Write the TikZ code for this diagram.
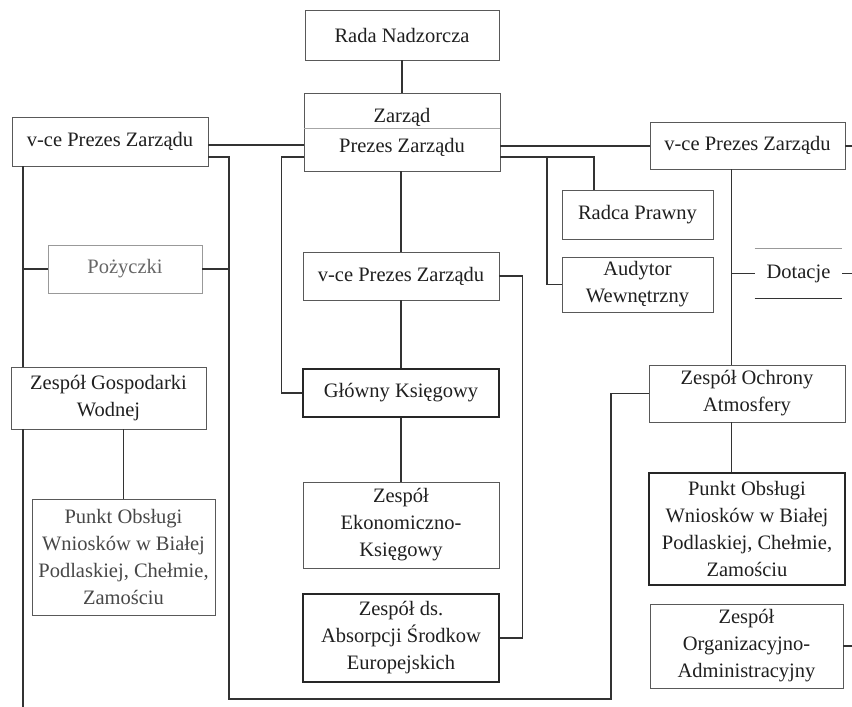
\documentclass[tikz,border=0pt]{standalone}
\usepackage{fontspec}
\setmainfont{Liberation Serif}
\usetikzlibrary{positioning,calc}
\tikzset{
  box/.style={draw=black!65, line width=0.8pt, rectangle, inner sep=0pt, align=center, text=black!88,
    font=\fontsize{20.5}{27}\selectfont},
  tbox/.style={box, line width=1.3pt, draw=black!85},
  obox/.style={box, draw=none},
  link/.style={draw=black!80, line width=1.1pt},
}

\begin{document}
\begin{tikzpicture}[x=1pt, y=-1pt]
\useasboundingbox (0,0) rectangle (852,707);

% Top of the chart
\node[box, minimum width=194pt, minimum height=50pt] (rada) at (402,35) {Rada Nadzorcza};
\node[box, minimum width=196pt, minimum height=78pt] (zarzad) at (402,132) {Zarząd\\[3pt]Prezes Zarządu};
\draw[draw=black!35, line width=0.6pt] (zarzad.west |- 0,128) -- (zarzad.east |- 0,128);

% Left branch
\node[box, minimum width=196pt, minimum height=49pt] (vceL) at (110,141.5) {v-ce Prezes Zarządu};
\node[box, draw=black!40, text=black!60, minimum width=154pt, minimum height=48pt] (pozyczki) at (125,269) {Pożyczki};
\node[box, minimum width=195pt, minimum height=62pt] (zgw) at (108.5,398) {Zespół Gospodarki\\Wodnej};
\node[box, text=black!72, minimum width=183pt, minimum height=116pt] (punktL) at (123.5,557) {Punkt Obsługi\\Wniosków w Białej\\Podlaskiej, Chełmie,\\Zamościu};

% Middle branch
\node[box, minimum width=196pt, minimum height=48pt] (vceC) at (401,276) {v-ce Prezes Zarządu};
\node[tbox, minimum width=196pt, minimum height=48pt] (glowny) at (401,393) {Główny Księgowy};
\node[box, minimum width=196pt, minimum height=86pt] (ekon) at (401,525) {Zespół\\Ekonomiczno-\\Księgowy};
\node[tbox, minimum width=196pt, minimum height=88pt] (absorp) at (401,638) {Zespół ds.\\Absorpcji Środkow\\Europejskich};

% Right branch
\node[box, minimum width=195pt, minimum height=47pt] (vceR) at (747.5,145.5) {v-ce Prezes Zarządu};
\node[box, minimum width=151pt, minimum height=49pt] (radca) at (637.5,214.5) {Radca Prawny};
\node[box, minimum width=151pt, minimum height=55pt] (audytor) at (637.5,284.5) {Audytor\\Wewnętrzny};
\node[obox, minimum width=87pt, minimum height=49pt] (dotacje) at (798.5,273.5) {Dotacje};
\draw[draw=black!40, line width=0.8pt] (dotacje.north west) -- (dotacje.north east);
\draw[draw=black!80, line width=1.3pt] (dotacje.south west) -- (dotacje.south east);
\node[box, minimum width=196pt, minimum height=57pt] (ochrony) at (747,393.5) {Zespół Ochrony\\Atmosfery};
\node[tbox, minimum width=196pt, minimum height=112pt] (punktR) at (747,529) {Punkt Obsługi\\Wniosków w Białej\\Podlaskiej, Chełmie,\\Zamościu};
\node[box, minimum width=193pt, minimum height=84pt] (organiz) at (746.5,646) {Zespół\\Organizacyjno-\\Administracyjny};

% Free ends at the page edges
\coordinate (edgeL) at (23,707);
\coordinate (loopL) at (229,699);
\coordinate (loopR) at (611,699);
\coordinate (spineR) at (731,0);
\coordinate (edgeR) at (852,0);

% Connectors
\draw[link] (rada.south) -- (zarzad.north);
\draw[link] (vceL.east |- 0,145) -- (zarzad.west |- 0,145);
\draw[link] (vceL.east |- 0,157) -| (loopL) -- (loopR) |- (ochrony.west);
\draw[link] (pozyczki.east) -- (pozyczki.east -| loopL);
\draw[link] (vceL.south -| edgeL) -- (zgw.north -| edgeL);
\draw[link] (zgw.south -| edgeL) -- (edgeL);
\draw[link] (pozyczki.west -| edgeL) -- (pozyczki.west);
\draw[link] (punktL.north |- zgw.south) -- (punktL.north);

\draw[link] (vceC.north |- zarzad.south) -- (vceC.north);
\draw[link] (vceC.south) -- (glowny.north);
\draw[link] (glowny.south) -- (ekon.north);
\draw[link] (zarzad.west |- 0,157) -| ([xshift=-21pt]glowny.west) -- (glowny.west);
\draw[link] (vceC.east) -| ([xshift=23pt]absorp.east) -- (absorp.east);

\draw[link] (zarzad.east |- 0,146) -- (vceR.west |- 0,146);
\draw[link] (zarzad.east |- 0,157) -| ([xshift=-43.5pt]radca.north);
\draw[link] ([xshift=-90.5pt]radca.north |- 0,157) |- (audytor.west);
\draw[link] (vceR.east |- 0,146) -- (edgeR |- 0,146);
\draw[link, line width=0.8pt] (vceR.south -| spineR) -- (ochrony.north -| spineR);
\draw[link] (dotacje.west -| spineR) -- (dotacje.west);
\draw[link] (dotacje.east) -- (edgeR |- dotacje.east);
\draw[link, line width=0.8pt] (ochrony.south -| spineR) -- (punktR.north -| spineR);
\draw[link] (organiz.east) -- (edgeR |- organiz.east);

\end{tikzpicture}
\end{document}
